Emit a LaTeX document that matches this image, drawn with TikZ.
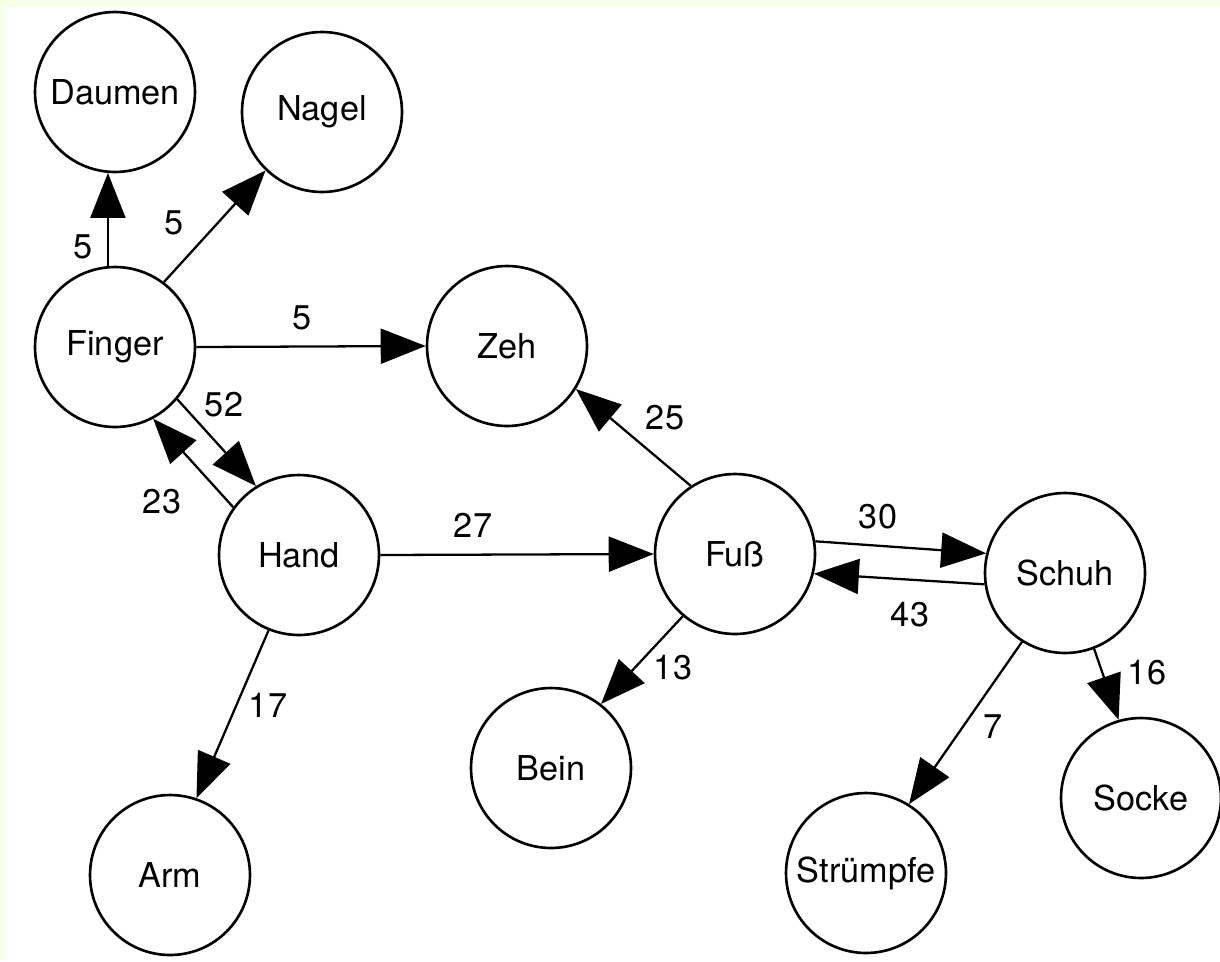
\documentclass[tikz,border=0pt]{standalone}
\usepackage{fontspec}
\setmainfont{TeX Gyre Heros}
\usepackage{xcolor}
\usepackage{tikz}
\usetikzlibrary{
	arrows.meta,
	positioning
}
\definecolor{bgtint}{RGB}{246,255,232}
\newcommand{\wordfont}{\fontsize{19.5}{22}\selectfont}

\begin{document}
\begin{tikzpicture}[x=0.02cm, y=-0.02cm,
		word/.style={circle, draw, line width=1.5pt, minimum size=3.2cm, inner sep=0pt, font=\wordfont},
		link/.style={line width=1.3pt, -{Triangle[length=0.9cm, width=0.7cm]}},
		count/.style={font=\wordfont, inner sep=0pt}]
		\useasboundingbox (0,0) rectangle (1220,961);
		\fill[bgtint] (0,0) rectangle (1220,961);
		\fill[white] (5,7) rectangle (1220,961);

		\node[word] (Daumen) at (115,92) {Daumen};
		\node[word] (Nagel) at (322,112) {Nagel};
		\node[word] (Finger) at (115,347) {Finger};
		\node[word] (Zeh) at (507,346) {Zeh};
		\node[word] (Hand) at (299,555) {Hand};
		\node[word] (Fuss) at (735,554) {Fuß};
		\node[word] (Schuh) at (1065,573) {Schuh};
		\node[word] (Arm) at (170,875) {Arm};
		\node[word] (Bein) at (551,768) {Bein};
		\node[word] (Struempfe) at (866,873) {Strümpfe};
		\node[word] (Socke) at (1141,798) {Socke};

		\draw[link] (Finger.95) -- (Daumen.265);
		\draw[link] (Finger.53) -- (Nagel.226);
		\draw[link] (Finger.0) -- (Zeh.180);
		\draw[link] (Finger.-40) -- (Hand.122);
		\draw[link] (Hand.144) -- (Finger.-62);
		\draw[link] (Hand.0) -- (Fuss.180);
		\draw[link] (Hand.248) -- (Arm.71);
		\draw[link] (Fuss.123) -- (Zeh.-32);
		\draw[link] (Fuss.9) -- (Schuh.166);
		\draw[link] (Schuh.188) -- (Fuss.-14);
		\draw[link] (Fuss.230) -- (Bein.52);
		\draw[link] (Schuh.238) -- (Struempfe.58);
		\draw[link] (Schuh.291) -- (Socke.106);

		\node[count] (nDaumen) at (83,247) {5};
		\node[count] (nNagel) at (174,223) {5};
		\node[count] (nZeh) at (302,318) {5};
		\node[count] (nFingerHand) at (224,405) {52};
		\node[count] (nHandFinger) at (162,502) {23};
		\node[count] (nHandFuss) at (473,525) {27};
		\node[count] (nFussZeh) at (665,418) {25};
		\node[count] (nFussSchuh) at (878,517) {30};
		\node[count] (nSchuhFuss) at (910,615) {43};
		\node[count] (nFussBein) at (673,668) {13};
		\node[count] (nHandArm) at (268,705) {17};
		\node[count] (nStruempfe) at (993,727) {7};
		\node[count] (nSocke) at (1147,673) {16};
	\end{tikzpicture}
\end{document}
